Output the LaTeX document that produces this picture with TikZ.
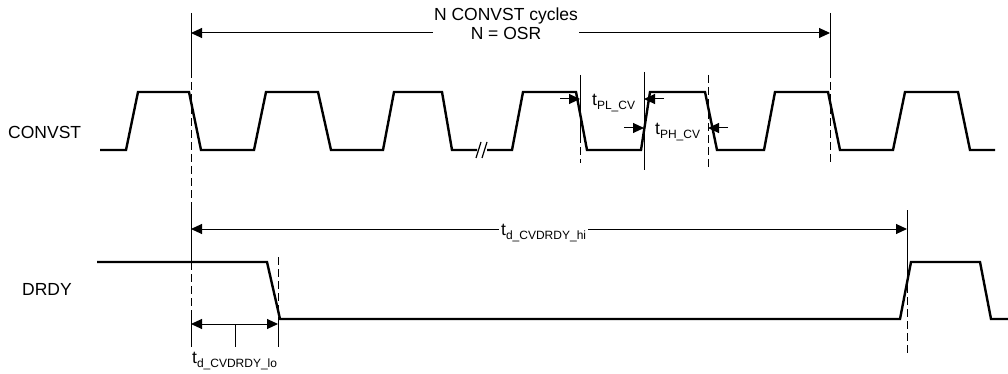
\documentclass[tikz,border=0pt]{standalone}
\usepackage{fontspec}
\setmainfont{Liberation Sans}
\usetikzlibrary{arrows.meta}
\newcommand{\sbs}[1]{\raisebox{-3.5pt}{\fontsize{12}{12}\selectfont #1}}
\begin{document}
\begin{tikzpicture}[x=1pt,y=-1pt,
  sig/.style={line width=2.4pt,line join=miter},
  guide/.style={line width=1pt},
  dashguide/.style={line width=1pt,dash pattern=on 8pt off 4pt},
  dim/.style={line width=1pt,{Triangle[length=11pt,width=10pt]}-{Triangle[length=11pt,width=10pt]}},
  tipR/.style={line width=1pt,-{Triangle[length=11pt,width=10pt]}},
  lbl/.style={font=\fontsize{17.5}{20}\selectfont,inner sep=0pt},
  every node/.style={text=black}]
\useasboundingbox (0,0) rectangle (1008,374);

% ---- signal labels
\node[lbl,anchor=west] (convst) at (8,132.5) {CONVST};
\node[lbl,anchor=west] (drdy) at (22,289.5) {DRDY};

% ---- CONVST waveform
\draw[sig] (100,150) -- (126,150) -- (138,92) -- (189,92) -- (201,150) -- (254,150)
  -- (266,92) -- (318,92) -- (331,150) -- (383,150) -- (394,92) -- (442,92) -- (452,150) -- (477,150);
\draw[sig] (487,150) -- (512,150) -- (523,92) -- (576,92) -- (587,150) -- (641,150)
  -- (650,92) -- (705,92) -- (717,150) -- (764,150) -- (775,92) -- (828,92) -- (840,150)
  -- (893,150) -- (905,92) -- (958,92) -- (970,150) -- (995,150);
% break marks
\draw[guide,line width=1.2pt] (476,158) -- (481,142);
\draw[guide,line width=1.2pt] (482,158) -- (487,142);

% ---- DRDY waveform
\draw[sig] (97,262) -- (267,262) -- (280,319) -- (900,319) -- (911,262) -- (980,262) -- (991,319) -- (1008,319);

% ---- guide coordinates
\coordinate (gA1) at (191,13);  \coordinate (gA2) at (191,70);
\coordinate (gA3) at (191,207); \coordinate (gA4) at (191,262);
\coordinate (gA5) at (191,318); \coordinate (gA6) at (191,347);
\coordinate (gB1) at (830,13);  \coordinate (gB2) at (830,70); \coordinate (gB3) at (830,163);
\coordinate (gC1) at (580,75);  \coordinate (gC2) at (580,135); \coordinate (gC3) at (580,163);
\coordinate (gD1) at (644,72);  \coordinate (gD2) at (644,170);
\coordinate (gE1) at (708,75);  \coordinate (gE2) at (708,170);
\coordinate (gF1) at (278,257); \coordinate (gF2) at (278,318); \coordinate (gF3) at (278,347);
\coordinate (gG1) at (907,210); \coordinate (gG2) at (907,273); \coordinate (gG3) at (907,353);
\coordinate (tick1) at (235,324); \coordinate (tick2) at (235,347);

% guide lines
\draw[guide] (gA1) -- (gA2);
\draw[dashguide] (gA2) -- (gA3);
\draw[guide] (gA3) -- (gA4);
\draw[dashguide] (gA4) -- (gA5);
\draw[guide] (gA5) -- (gA6);
\draw[guide] (gB1) -- (gB2);
\draw[dashguide] (gB2) -- (gB3);
\draw[guide] (gC1) -- (gC2);
\draw[dashguide] (gC2) -- (gC3);
\draw[guide] (gD1) -- (gD2);
\draw[dashguide] (gE1) -- (gE2);
\draw[dashguide] (gF1) -- (gF2);
\draw[guide] (gF2) -- (gF3);
\draw[guide] (gG1) -- (gG2);
\draw[dashguide] (gG2) -- (gG3);
\draw[guide] (tick1) -- (tick2);

% ---- N CONVST cycles dimension
\coordinate (nL) at (191,33); \coordinate (nR) at (830,33);
\draw[dim] (nL) -- (nR);
\node[lbl,fill=white,align=center,inner sep=1pt] (ncyc) at (506,23.5) {N CONVST cycles\\[-1pt]N = OSR};

% ---- tPL_CV
\coordinate (pl1) at (560,99); \coordinate (pl2) at (580,99);
\coordinate (pl3) at (664,99); \coordinate (pl4) at (644,99);
\draw[tipR] (pl1) -- (pl2);
\draw[tipR] (pl3) -- (pl4);
\node[lbl,anchor=west] (tpl) at (592,103) {t\sbs{PL\_CV}};

% ---- tPH_CV
\coordinate (ph1) at (624,128); \coordinate (ph2) at (644,128);
\coordinate (ph3) at (728,128); \coordinate (ph4) at (708,128);
\draw[tipR] (ph1) -- (ph2);
\draw[tipR] (ph3) -- (ph4);
\node[lbl,anchor=west] (tph) at (655,132) {t\sbs{PH\_CV}};

% ---- td_CVDRDY_hi
\coordinate (hL) at (191,229); \coordinate (hR) at (907,229);
\draw[dim] (hL) -- (hR);
\node[lbl,anchor=west,fill=white,inner xsep=2pt,inner ysep=1pt] (tdhi) at (499,233) {t\sbs{d\_CVDRDY\_hi}};

% ---- td_CVDRDY_lo
\coordinate (lL) at (191,324); \coordinate (lR) at (278,324);
\draw[dim] (lL) -- (lR);
\node[lbl,anchor=west] (tdlo) at (192,361) {t\sbs{d\_CVDRDY\_lo}};
\end{tikzpicture}
\end{document}
